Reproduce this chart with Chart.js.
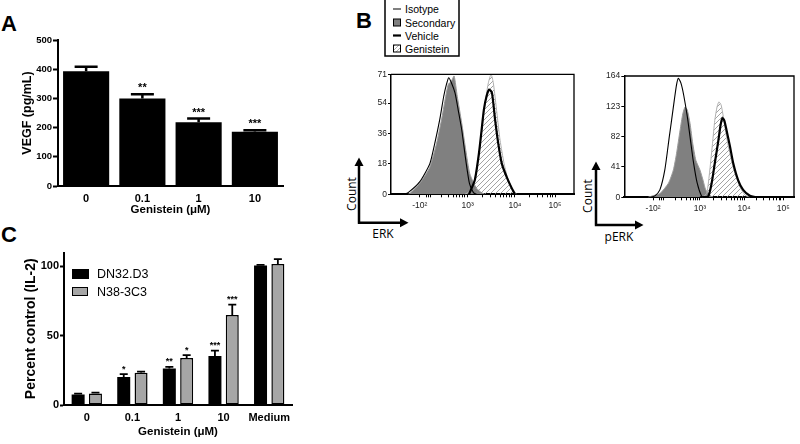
<!DOCTYPE html>
<html><head><meta charset="utf-8">
<script src="https://cdn.jsdelivr.net/npm/chart.js@4"></script>
<style>
body{margin:0;width:800px;height:444px;position:relative;background:#fff;overflow:hidden;font-family:"Liberation Sans",Arial,sans-serif}
canvas{position:absolute}
.pl{position:absolute;font-weight:bold;font-size:22px;line-height:22px;color:#000}
.lg{position:absolute;font-size:12.5px;line-height:14px;color:#000}
</style></head>
<body>
<svg style="position:absolute;left:0;top:0" width="800" height="444">
 <defs>
  <pattern id="hp" width="4" height="4" patternUnits="userSpaceOnUse"><path d="M0 4 L4 0 M-1 1 L1 -1 M3 5 L5 3" stroke="#888" stroke-width="0.7"/></pattern>
 </defs>
 <rect x="385" y="-2" width="74" height="58" fill="#fff" stroke="#000" stroke-width="1.5"/>
 <line x1="393" y1="9" x2="401" y2="9" stroke="#000" stroke-width="1"/>
 <rect x="393.5" y="19" width="7" height="7" fill="#808080" stroke="#000" stroke-width="1"/>
 <line x1="393" y1="35.5" x2="401" y2="35.5" stroke="#000" stroke-width="2.2"/>
 <rect x="393.5" y="45" width="7" height="7" fill="url(#hp)" stroke="#000" stroke-width="1"/>
 <g font-family="Liberation Sans, Arial, sans-serif" font-size="10.5" dominant-baseline="central" fill="#000">
  <text x="405" y="9">Isotype</text>
  <text x="405" y="22.5">Secondary</text>
  <text x="405" y="35.5">Vehicle</text>
  <text x="405" y="48.5">Genistein</text>
 </g>
 <g stroke="#000" stroke-width="2.5" fill="none">
  <path d="M359 222.7 V165 M357.8 222.7 H401"/>
  <path d="M596 225 V169 M594.8 225 H636"/>
 </g>
 <g fill="#000">
  <polygon points="359,157.5 354.5,166 363.5,166"/>
  <polygon points="408.5,222.7 400,218.2 400,227.2"/>
  <polygon points="596,161.5 591.5,170 600.5,170"/>
  <polygon points="643.5,225 635,220.5 635,229.5"/>
 </g>
 <g font-family="Open Sans, sans-serif" font-size="12" fill="#000" dominant-baseline="central" text-anchor="middle">
  <text x="383" y="233">ERK</text>
  <text x="619" y="236.5">pERK</text>
  <text transform="translate(351,194) rotate(-90)">Count</text>
  <text transform="translate(587.5,196) rotate(-90)">Count</text>
 </g>
</svg>
<div class="pl" style="left:1px;top:13px">A</div>
<div class="pl" style="left:356px;top:10px">B</div>
<div class="pl" style="left:1px;top:224px">C</div>

<canvas id="cA" width="300" height="192" style="left:0;top:30px"></canvas>
<canvas id="cC" width="300" height="199" style="left:0;top:245px"></canvas>
<canvas id="cB1" width="215" height="156" style="left:370px;top:64px"></canvas>
<canvas id="cB2" width="202" height="156" style="left:598px;top:66px"></canvas>

<div style="position:absolute;left:72px;top:269px;width:17px;height:10px;background:#000"></div>
<div style="position:absolute;left:72px;top:286.5px;width:14px;height:7px;background:#a6a6a6;border:1.5px solid #000"></div>
<div class="lg" style="left:97px;top:266.5px">DN32.D3</div>
<div class="lg" style="left:97px;top:284.5px">N38-3C3</div>

<script>
// ---------- Panel A data ----------
const categoriesA = ['0', '0.1', '1', '10'];
const vegf = [393, 300, 218, 186];
const vegfErr = [15, 14, 13, 5];
const vegfSig = ['', '**', '***', '***'];
const ticksA = [0, 100, 200, 300, 400, 500];

// ---------- Panel C data ----------
const categoriesC = ['0', '0.1', '1', '10', 'Medium'];
const dn32 = [7.6, 20.3, 26.3, 35.3, 100.6];
const dn32Err = [0.6, 2.0, 1.2, 4.0, 0.5];
const dn32Sig = ['', '*', '**', '***', ''];
const n38 = [8.3, 23.3, 34, 65, 101.8];
const n38Err = [0.6, 0.8, 2.0, 7.5, 3.5];
const n38Sig = ['', '', '*', '***', ''];
const ticksC = [0, 50, 100];

// ---------- Panel B data (x in log-decade units) ----------
const erkTicksY = [0, 18, 36, 54, 71];
const perkTicksY = [0, 41, 82, 123, 164];
const xTickLabels = ['-10²', '10³', '10⁴', '10⁵'];
const erkTicksX = [1.96, 3.02, 4.07, 4.96];
const perkTicksX = [1.96, 3.0, 3.98, 4.85];
const erkMinorX = [2.1, 2.15, 2.2, 2.45, 2.6, 2.7, 2.78, 2.85, 2.9, 2.95, 3.34, 3.52, 3.64, 3.74, 3.82, 3.89, 3.95, 4.0, 4.4, 4.57, 4.69, 4.79, 4.86, 4.91];
const perkMinorX = [2.1, 2.15, 2.2, 2.45, 2.6, 2.7, 2.78, 2.85, 2.9, 2.95, 3.3, 3.48, 3.6, 3.7, 3.77, 3.84, 3.9, 3.94, 4.26, 4.42, 4.54, 4.63, 4.7, 4.76, 4.8];

// ERK histograms
const erkIsoX = [1.6, 1.7, 1.96, 2.18, 2.29, 2.4, 2.49, 2.55, 2.6, 2.66, 2.74, 2.81, 2.89, 2.98, 3.06, 3.15, 3.22];
const erkIsoY = [0, 1, 7.5, 18, 30, 44, 58, 65, 69, 66, 60, 50, 38, 20, 6.5, 1, 0];
const erkSecX = [1.7, 1.74, 1.96, 2.18, 2.33, 2.44, 2.52, 2.59, 2.66, 2.72, 2.79, 2.89, 2.98, 3.07, 3.22, 3.33, 3.4];
const erkSecY = [0, 0.5, 6.5, 16, 30, 44, 56, 65, 67, 70, 58, 42, 26, 12, 3.5, 1, 0];
const erkVehX = [3.05, 3.18, 3.27, 3.33, 3.38, 3.44, 3.5, 3.56, 3.63, 3.7, 3.78, 3.89, 4.0, 4.07];
const erkVehY = [0, 8.5, 24, 38, 50, 58, 62, 60, 44, 30, 18, 10, 3.5, 0];
const erkGenX = [2.96, 3.05, 3.15, 3.22, 3.3, 3.37, 3.43, 3.48, 3.54, 3.59, 3.67, 3.74, 3.83, 3.92, 4.04, 4.1];
const erkGenY = [0, 1.5, 6.5, 14.7, 30, 46, 58, 66, 71, 66, 48, 32, 18, 8.5, 2.5, 0];

// pERK histograms
const perkIsoX = [1.9, 2.0, 2.11, 2.22, 2.32, 2.37, 2.43, 2.48, 2.52, 2.58, 2.64, 2.72, 2.78, 2.85, 2.94, 3.04, 3.1];
const perkIsoY = [0, 2, 10, 37, 82, 104, 131, 152, 161, 154, 138, 109, 82, 50, 19, 1, 0];
const perkSecX = [1.85, 1.95, 2.11, 2.3, 2.41, 2.48, 2.56, 2.62, 2.67, 2.72, 2.78, 2.84, 2.91, 3.0, 3.07, 3.13, 3.27];
const perkSecY = [0, 2, 5, 19, 37, 59, 91, 113, 122, 118, 100, 73, 50, 37, 23, 10, 0];
const perkVehX = [3.0, 3.18, 3.26, 3.33, 3.41, 3.46, 3.5, 3.54, 3.59, 3.67, 3.74, 3.85, 3.96, 4.11, 4.26];
const perkVehY = [0, 1, 19, 46, 77, 98, 107, 104, 91, 68, 46, 23, 10, 2, 0];
const perkGenX = [3.05, 3.15, 3.22, 3.28, 3.33, 3.38, 3.42, 3.47, 3.52, 3.59, 3.68, 3.78, 3.89, 4.0, 4.11];
const perkGenY = [0, 5, 37, 73, 104, 122, 129, 125, 109, 82, 55, 32, 14, 3, 0];

// ---------- helpers ----------
const FF = '"Liberation Sans", Arial, sans-serif';
const errPlugin = {
  id: 'errbars',
  afterDatasetsDraw(chart, args, opts) {
    const ctx = chart.ctx, y = chart.scales.y;
    chart.data.datasets.forEach((ds, i) => {
      const meta = chart.getDatasetMeta(i);
      meta.data.forEach((bar, j) => {
        const v = ds.data[j], e = ds.errors ? ds.errors[j] : 0;
        const yv = y.getPixelForValue(v), yt = y.getPixelForValue(v + e);
        const x = bar.x;
        ctx.save();
        ctx.strokeStyle = '#000'; ctx.lineWidth = opts.lineWidth;
        if (e > 0) {
          ctx.beginPath();
          ctx.moveTo(x, yv); ctx.lineTo(x, yt);
          ctx.moveTo(x - opts.cap / 2, yt); ctx.lineTo(x + opts.cap / 2, yt);
          ctx.stroke();
        }
        if (ds.sig && ds.sig[j]) {
          ctx.fillStyle = '#000'; ctx.font = opts.sigFont;
          ctx.textAlign = 'center'; ctx.textBaseline = 'middle';
          ctx.fillText(ds.sig[j], x, yt - opts.gap);
        }
        ctx.restore();
      });
    });
  }
};
const framePlugin = {
  id: 'frame',
  afterDatasetsDraw(chart) {
    const {left, right, top, bottom} = chart.chartArea;
    const c = chart.ctx;
    c.save(); c.strokeStyle = '#000'; c.lineWidth = 1.3;
    c.beginPath(); c.moveTo(left, top); c.lineTo(right, top); c.lineTo(right, bottom); c.stroke();
    c.restore();
  }
};

// ---------- Panel A ----------
new Chart(document.getElementById('cA'), {
  type: 'bar',
  data: {labels: categoriesA, datasets: [{data: vegf, errors: vegfErr, sig: vegfSig, backgroundColor: '#000', borderWidth: 0, categoryPercentage: 1, barPercentage: 0.82}]},
  options: {
    responsive: false, animation: false, events: [],
    layout: {padding: {top: 10, right: 17, left: 0, bottom: 0}},
    plugins: {legend: {display: false}, tooltip: {enabled: false},
      errbars: {cap: 23, lineWidth: 2.5, sigFont: 'bold 11px ' + FF, gap: 6}},
    scales: {
      x: {grid: {display: false, drawTicks: false}, border: {color: '#000', width: 2},
        ticks: {font: {family: FF, size: 11, weight: 'bold'}, color: '#000', padding: 6, maxRotation: 0, minRotation: 0, autoSkip: false},
        title: {display: true, text: 'Genistein (μM)', color: '#000', font: {family: FF, size: 11.5, weight: 'bold'}, padding: {top: 0, bottom: 5}},
        afterFit(s) { s.height = 36; }},
      y: {min: 0, max: 500,
        afterBuildTicks(s) { s.ticks = ticksA.map(v => ({value: v})); },
        ticks: {font: {family: FF, size: 9.5, weight: 'bold'}, color: '#000', padding: 1},
        grid: {drawOnChartArea: false, tickLength: 5, color: '#000', tickWidth: 2},
        border: {color: '#000', width: 2},
        title: {display: true, text: 'VEGF (pg/mL)', color: '#000', font: {family: FF, size: 12.5, weight: 'bold'}, padding: {top: 20.5, bottom: 20.5}},
        afterFit(s) { s.width = 58; }}
    }
  },
  plugins: [errPlugin]
});

// ---------- Panel C ----------
new Chart(document.getElementById('cC'), {
  type: 'bar',
  data: {labels: categoriesC, datasets: [
    {data: dn32, errors: dn32Err, sig: dn32Sig, backgroundColor: '#000', borderColor: '#000', borderWidth: 0, categoryPercentage: 0.76, barPercentage: 0.75},
    {data: n38, errors: n38Err, sig: n38Sig, backgroundColor: '#a6a6a6', borderColor: '#000', borderWidth: 1.5, borderSkipped: false, categoryPercentage: 0.76, barPercentage: 0.75}
  ]},
  options: {
    responsive: false, animation: false, events: [],
    layout: {padding: {top: 6.7, right: 8, left: 0, bottom: 0}},
    plugins: {legend: {display: false}, tooltip: {enabled: false},
      errbars: {cap: 8, lineWidth: 1.8, sigFont: 'bold 9px ' + FF, gap: 5}},
    scales: {
      x: {grid: {display: false, drawTicks: false}, border: {color: '#000', width: 2},
        ticks: {font: {family: FF, size: 11, weight: 'bold'}, color: '#000', padding: 6, maxRotation: 0, minRotation: 0, autoSkip: false},
        title: {display: true, text: 'Genistein (μM)', color: '#000', font: {family: FF, size: 11.5, weight: 'bold'}, padding: {top: 0, bottom: 5}},
        afterFit(s) { s.height = 39; }},
      y: {min: 0, max: 110,
        afterBuildTicks(s) { s.ticks = ticksC.map(v => ({value: v})); },
        ticks: {font: {family: FF, size: 11, weight: 'bold'}, color: '#000', padding: 1},
        grid: {drawOnChartArea: false, tickLength: 4, color: '#000', tickWidth: 2},
        border: {color: '#000', width: 2},
        title: {display: true, text: 'Percent control (IL-2)', color: '#000', font: {family: FF, size: 14, weight: 'bold'}, padding: {top: 22.6, bottom: 22.6}},
        afterFit(s) { s.width = 64; }}
    }
  },
  plugins: [errPlugin]
});

// ---------- Panel B ----------
function hatchPattern(ctx) {
  const c = document.createElement('canvas'); c.width = 5; c.height = 5;
  const g = c.getContext('2d');
  g.strokeStyle = '#8c8c8c'; g.lineWidth = 0.8;
  g.beginPath(); g.moveTo(0, 5); g.lineTo(5, 0); g.moveTo(-2.5, 2.5); g.lineTo(2.5, -2.5); g.moveTo(2.5, 7.5); g.lineTo(7.5, 2.5); g.stroke();
  return ctx.createPattern(c, 'repeat');
}
function pts(xs, ys) { return xs.map((x, i) => ({x: x, y: ys[i]})); }

function histChart(id, o) {
  const el = document.getElementById(id);
  const ctx = el.getContext('2d');
  const allX = o.ticksX.concat(o.minorX);
  return new Chart(el, {
    type: 'scatter',
    data: {datasets: [
      {data: pts(o.vehX, o.vehY), showLine: true, pointRadius: 0, borderColor: '#000', borderWidth: 2.2, fill: false, tension: 0.2, order: 0},
      {data: pts(o.isoX, o.isoY), showLine: true, pointRadius: 0, borderColor: '#000', borderWidth: 1.1, fill: false, tension: 0.2, order: 1},
      {data: pts(o.genX, o.genY), showLine: true, pointRadius: 0, borderColor: '#b0b0b0', borderWidth: 1, fill: 'origin', backgroundColor: hatchPattern(ctx), tension: 0.2, order: 2},
      {data: pts(o.secX, o.secY), showLine: true, pointRadius: 0, borderColor: '#9a9a9a', borderWidth: 1, fill: 'origin', backgroundColor: '#808080', tension: 0.2, order: 3}
    ]},
    options: {
      responsive: false, animation: false, events: [],
      layout: {padding: o.pad},
      plugins: {legend: {display: false}, tooltip: {enabled: false}},
      scales: {
        x: {type: 'linear', min: o.xmin, max: o.xmax,
          afterBuildTicks(s) { s.ticks = allX.map(v => ({value: v})); },
          ticks: {autoSkip: false, maxRotation: 0, font: {family: FF, size: 8.5}, color: '#222', padding: 3,
            callback: (v) => { const k = o.ticksX.indexOf(v); return k >= 0 ? xTickLabels[k] : ''; }},
          grid: {drawOnChartArea: false, tickLength: 3, color: '#000', tickWidth: 1},
          border: {color: '#000', width: 2},
          afterFit(s) { s.height = o.xh; }},
        y: {min: 0, max: o.ymax,
          afterBuildTicks(s) { s.ticks = o.ticksY.map(v => ({value: v})); },
          ticks: {font: {family: FF, size: 8.5}, color: '#222', padding: 1},
          grid: {drawOnChartArea: false, tickLength: 3, color: '#000', tickWidth: 1},
          border: {color: '#000', width: 1.5},
          afterFit(s) { s.width = o.yw; }}
      }
    },
    plugins: [framePlugin]
  });
}

histChart('cB1', {isoX: erkIsoX, isoY: erkIsoY, secX: erkSecX, secY: erkSecY, vehX: erkVehX, vehY: erkVehY, genX: erkGenX, genY: erkGenY,
  ticksX: erkTicksX, minorX: erkMinorX, ticksY: erkTicksY, ymax: 71, xmin: 1.32, xmax: 5.38,
  pad: {top: 10.3, right: 11, left: 0, bottom: 0}, xh: 25.7, yw: 21});
histChart('cB2', {isoX: perkIsoX, isoY: perkIsoY, secX: perkSecX, secY: perkSecY, vehX: perkVehX, vehY: perkVehY, genX: perkGenX, genY: perkGenY,
  ticksX: perkTicksX, minorX: perkMinorX, ticksY: perkTicksY, ymax: 164, xmin: 1.32, xmax: 5.09,
  pad: {top: 10, right: 6, left: 0, bottom: 0}, xh: 24.7, yw: 26.3});
</script>
</body></html>
